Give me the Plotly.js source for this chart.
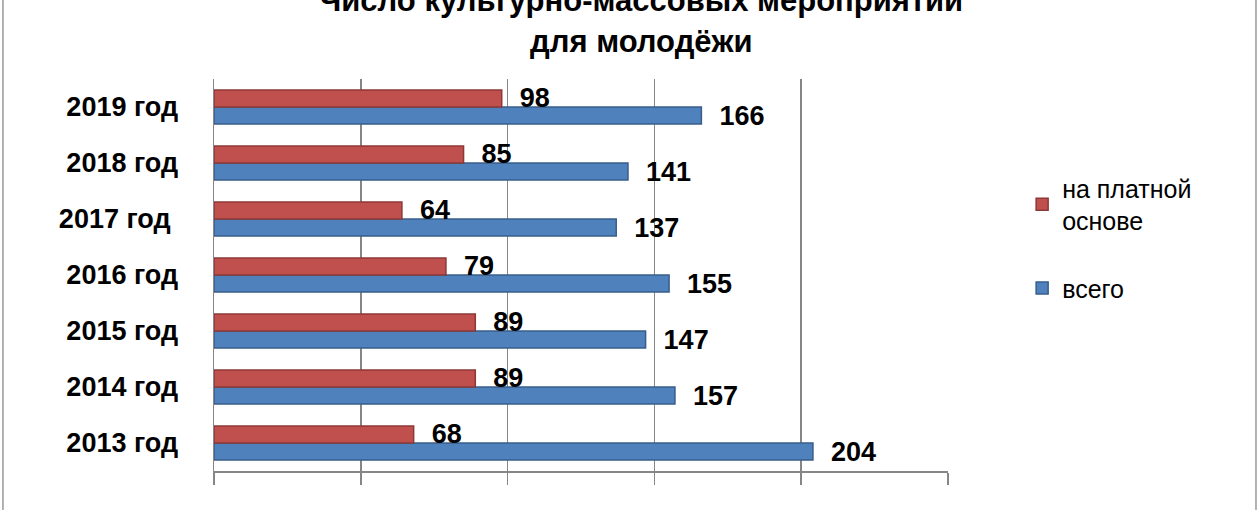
<!DOCTYPE html>
<html>
<head>
<meta charset="utf-8">
<script src="https://cdn.plot.ly/plotly-3.0.1.min.js"></script>
<style>html,body{margin:0;padding:0;background:#fff;}#chart{width:1260px;height:510px;}</style>
</head>
<body>
<div id="chart"></div>
<script>
const years = ['2013 год', '2014 год', '2015 год', '2016 год', '2017 год\u00a0', '2018 год', '2019 год'];
const paidValues = [68, 89, 89, 79, 64, 85, 98];
const totalValues = [204, 157, 147, 155, 137, 141, 166];
const seriesNames = ['на платной<br>основе', 'всего'];
const titleText = 'Число культурно-массовых мероприятий<br>для молодёжи';
const xTicks = [0, 50, 100, 150, 200, 250];

const FONT = '"Liberation Sans", Arial, sans-serif';
const labelFont = {family: FONT, size: 27, color: '#000', weight: 'bold'};

const traces = [
  {
    type: 'bar', orientation: 'h', name: seriesNames[1], legendgroup: 'b', legendrank: 2,
    y: years, x: totalValues,
    marker: {color: '#4F81BD', line: {color: '#385D8A', width: 1.5}},
    text: totalValues, texttemplate: '\u00a0\u00a0%{x}', textposition: 'outside',
    constraintext: 'none',
    textfont: labelFont, cliponaxis: false, hoverinfo: 'none'
  },
  {
    type: 'bar', orientation: 'h', name: seriesNames[0], legendgroup: 'a', legendrank: 1,
    y: years, x: paidValues,
    marker: {color: '#C0504D', line: {color: '#8C3836', width: 1.5}},
    text: paidValues, texttemplate: '\u00a0\u00a0%{x}', textposition: 'outside',
    constraintext: 'none',
    textfont: labelFont, cliponaxis: false, hoverinfo: 'none'
  }
];

const layout = {
  width: 1260, height: 510,
  paper_bgcolor: '#fff', plot_bgcolor: '#fff',
  margin: {l: 214, r: 312, t: 79, b: 39},
  barmode: 'group', bargap: 0.39, bargroupgap: 0,
  showlegend: true,
  title: {
    text: titleText,
    font: {family: FONT, size: 31, color: '#000', weight: 'bold'},
    x: 0.509, xanchor: 'center', xref: 'container',
    y: 0.978, yanchor: 'bottom', yref: 'container'
  },
  xaxis: {
    range: [0, 250], tickvals: xTicks, showticklabels: false,
    showgrid: true, gridcolor: '#868686', gridwidth: 1.5,
    zeroline: false, showline: true, linecolor: '#868686', linewidth: 1.5,
    ticks: 'outside', ticklen: 12, tickcolor: '#868686', tickwidth: 1.5,
    fixedrange: true
  },
  yaxis: {
    type: 'category', showgrid: false, zeroline: false,
    showline: true, linecolor: '#868686', linewidth: 1.5,
    ticks: '', ticklabelstandoff: 29,
    tickfont: {family: FONT, size: 27, color: '#000', weight: 'bold'},
    fixedrange: true
  },
  legend: {
    x: 1.101, xanchor: 'left', y: 0.78, yanchor: 'top',
    traceorder: 'grouped',
    font: {family: FONT, size: 25, color: '#000'},
    itemwidth: 30, tracegroupgap: 32, bgcolor: 'rgba(0,0,0,0)'
  },
  shapes: [
    {type: 'line', xref: 'paper', yref: 'paper', x0: -0.2875, x1: -0.2875, y0: -0.2, y1: 1.3,
     line: {color: '#9a9a9a', width: 1.5}},
    {type: 'line', xref: 'paper', yref: 'paper', x0: 1.4196, x1: 1.4196, y0: -0.2, y1: 1.3,
     line: {color: '#9a9a9a', width: 1.5}}
  ]
};

Plotly.newPlot('chart', traces, layout, {displayModeBar: false, staticPlot: true});
</script>
</body>
</html>
